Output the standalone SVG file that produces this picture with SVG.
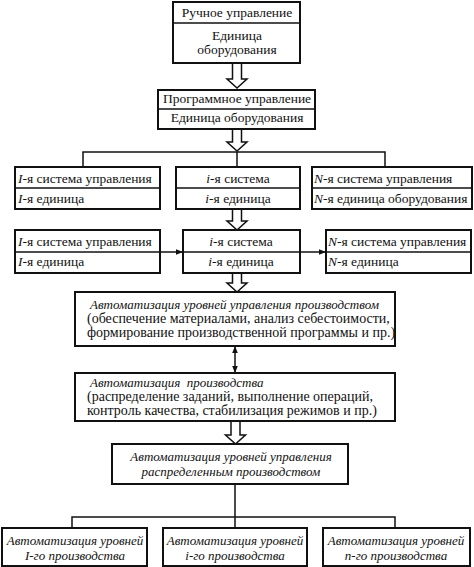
<svg xmlns="http://www.w3.org/2000/svg" width="474" height="567" viewBox="0 0 474 567">
<style>
.b{fill:#fff;stroke:#111;stroke-width:2}
.d{stroke:#111;stroke-width:1.5;fill:none}
.l{stroke:#111;stroke-width:1.5;fill:none}
.h{fill:#fff;stroke:#111;stroke-width:1.5;stroke-linejoin:miter}
text{font-family:"Liberation Serif","Times New Roman",serif;font-size:13.5px;fill:#111}
.c{text-anchor:middle}
.i{font-style:italic}
.it{font-style:italic;font-size:13px}
.m{font-size:14px}
</style>
<defs>
<marker id="ar" viewBox="0 0 10 10" refX="10" refY="5" markerWidth="9" markerHeight="7" markerUnits="userSpaceOnUse" orient="auto-start-reverse">
<path d="M0,1 L10,5 L0,9 Z" fill="#111"/>
</marker>
</defs>
<rect width="474" height="567" fill="#fff"/>

<g id="connectors">
<path class="h" d="M232.5,63 V79 H227 L237,88 L247,79 H241.5 V63"/>
<path class="h" d="M232.5,129 V142 H227 L237,151 L247,142 H241.5 V129"/>
<path class="l" d="M83,167 V152 H385 V167 M237,152 V167"/>
<path class="h" d="M232.5,209 V221 H227 L237,230 L247,221 H241.5 V209"/>
<line class="l" x1="160" y1="252" x2="183" y2="252" marker-end="url(#ar)"/>
<line class="l" x1="300" y1="252" x2="326" y2="252" marker-end="url(#ar)"/>
<path class="h" d="M232.5,273 V283 H227 L237,292 L247,283 H241.5 V273"/>
<line class="l" x1="235" y1="346" x2="235" y2="373" marker-start="url(#ar)" marker-end="url(#ar)"/>
<path class="h" d="M231,421 V435 H225.5 L235.5,444 L245.5,435 H240 V421"/>
<path class="l" d="M235,484 V517 M72,528 V517 H395 V528 M235,517 V528"/>
</g>

<g id="n1">
<rect class="b" x="173" y="2" width="127" height="61"/>
<line class="d" x1="173" y1="23" x2="300" y2="23"/>
<text class="c" x="237" y="17">Ручное управление</text>
<text class="c" x="237" y="40">Единица</text>
<text class="c" x="237" y="54">оборудования</text>
</g>

<g id="n2">
<rect class="b" x="158" y="90" width="157" height="39"/>
<line class="d" x1="158" y1="109" x2="315" y2="109"/>
<text class="c" x="237" y="103">Программное управление</text>
<text class="c" x="237" y="122">Единица оборудования</text>
</g>

<g id="n3a">
<rect class="b" x="15" y="167" width="145" height="42"/>
<line class="d" x1="15" y1="188" x2="160" y2="188"/>
<text x="18" y="183"><tspan class="i">I</tspan>-я система управления</text>
<text x="18" y="203"><tspan class="i">I</tspan>-я единица</text>
</g>
<g id="n3b">
<rect class="b" x="176" y="167" width="124" height="42"/>
<line class="d" x1="176" y1="188" x2="300" y2="188"/>
<text class="c" x="238" y="183"><tspan class="i">i</tspan>-я система</text>
<text class="c" x="238" y="203"><tspan class="i">i</tspan>-я единица</text>
</g>
<g id="n3c">
<rect class="b" x="312" y="167" width="160" height="42"/>
<line class="d" x1="312" y1="188" x2="472" y2="188"/>
<text x="314" y="183"><tspan class="i">N</tspan>-я система управления</text>
<text x="314" y="203"><tspan class="i">N</tspan>-я единица оборудования</text>
</g>

<g id="n4a">
<rect class="b" x="15" y="230" width="145" height="43"/>
<line class="d" x1="15" y1="252" x2="160" y2="252"/>
<text x="18" y="246"><tspan class="i">I</tspan>-я система управления</text>
<text x="18" y="266"><tspan class="i">I</tspan>-я единица</text>
</g>
<g id="n4b">
<rect class="b" x="183" y="230" width="117" height="43"/>
<line class="d" x1="183" y1="252" x2="300" y2="252"/>
<text class="c" x="241" y="246"><tspan class="i">i</tspan>-я система</text>
<text class="c" x="241" y="266"><tspan class="i">i</tspan>-я единица</text>
</g>
<g id="n4c">
<rect class="b" x="326" y="230" width="145" height="43"/>
<line class="d" x1="326" y1="252" x2="471" y2="252"/>
<text x="328" y="246"><tspan class="i">N</tspan>-я система управления</text>
<text x="328" y="266"><tspan class="i">N</tspan>-я единица</text>
</g>

<g id="n5">
<rect class="b" x="75" y="292" width="320" height="54"/>
<text class="it" x="90" y="309">Автоматизация уровней управления производством</text>
<text class="m" x="87" y="323">(обеспечение материалами, анализ себестоимости,</text>
<text class="m" x="87" y="337">формирование производственной программы и пр.)</text>
</g>

<g id="n6">
<rect class="b" x="75" y="373" width="320" height="48"/>
<text class="it" x="90" y="387" xml:space="preserve">Автоматизация  производства</text>
<text class="m" x="87" y="401">(распределение заданий, выполнение операций,</text>
<text class="m" x="87" y="415">контроль качества, стабилизация режимов и пр.)</text>
</g>

<g id="n7">
<rect class="b" x="112" y="444" width="236" height="40"/>
<text class="c it" x="231" y="461">Автоматизация уровней управления</text>
<text class="c it" x="231" y="476">распределенным производством</text>
</g>

<g id="n8a">
<rect class="b" x="2" y="528" width="145" height="38"/>
<text class="c it" x="75" y="545">Автоматизация уровней</text>
<text class="c it" x="75" y="560">I-го производства</text>
</g>
<g id="n8b">
<rect class="b" x="163" y="528" width="144" height="38"/>
<text class="c it" x="235" y="545">Автоматизация уровней</text>
<text class="c it" x="235" y="560">i-го производства</text>
</g>
<g id="n8c">
<rect class="b" x="323" y="528" width="147" height="38"/>
<text class="c it" x="396" y="545">Автоматизация уровней</text>
<text class="c it" x="396" y="560">n-го производства</text>
</g>
</svg>
